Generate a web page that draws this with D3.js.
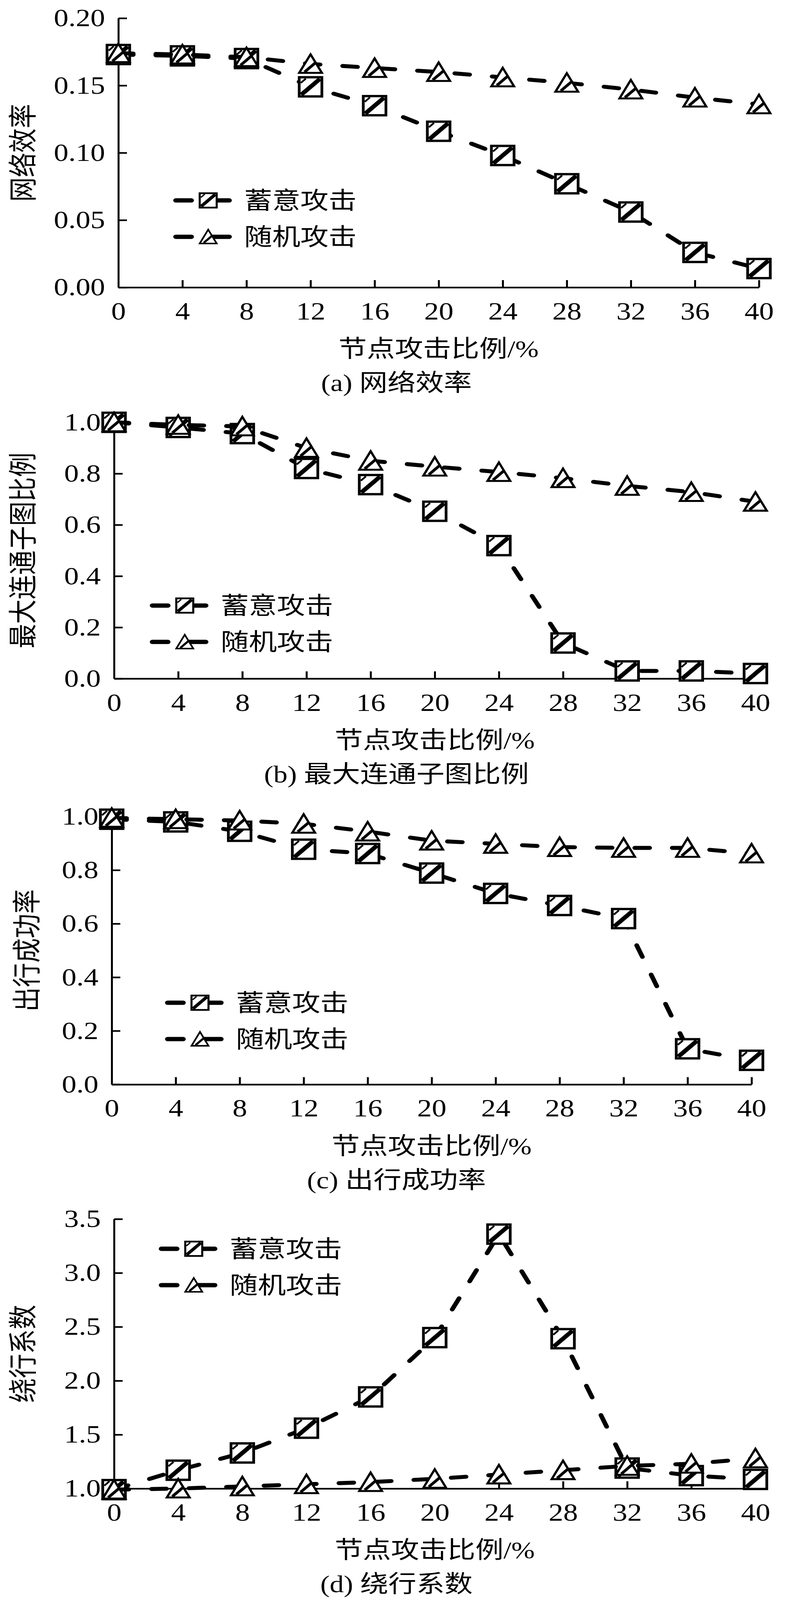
<!DOCTYPE html>
<html>
<head>
<meta charset="utf-8">
<script src="https://cdn.jsdelivr.net/npm/d3@7"></script>
<style>
  body { margin: 0; background: #fff; }
  svg { display: block; }
  text { fill: #000; font-family: "Liberation Serif", "Noto Sans CJK SC", serif; }
</style>
</head>
<body>
<svg id="chart"></svg>
<script>
// attack ratio (%) on the x axis, shared by all four panels
let attackRatio = [0, 4, 8, 12, 16, 20, 24, 28, 32, 36, 40];
let seriesNames = ["蓄意攻击", "随机攻击"];
let xTitle = "节点攻击比例/%";

// (a) network efficiency
let effDeliberate = [0.173, 0.172, 0.170, 0.149, 0.135, 0.116, 0.098, 0.077, 0.056, 0.026, 0.014];
let effRandom     = [0.174, 0.173, 0.171, 0.166, 0.163, 0.160, 0.156, 0.152, 0.147, 0.141, 0.136];
let effTicks = [0, 0.05, 0.10, 0.15, 0.20];

// (b) largest connected subgraph ratio
let lccDeliberate = [1.0, 0.98, 0.956, 0.82, 0.757, 0.653, 0.519, 0.139, 0.03, 0.03, 0.02];
let lccRandom     = [1.0, 0.99, 0.984, 0.90, 0.85, 0.827, 0.806, 0.782, 0.752, 0.728, 0.69];
let lccTicks = [0, 0.2, 0.4, 0.6, 0.8, 1.0];

// (c) trip success rate
let tripDeliberate = [0.99, 0.98, 0.945, 0.878, 0.862, 0.789, 0.713, 0.668, 0.619, 0.133, 0.09];
let tripRandom     = [0.995, 0.99, 0.985, 0.973, 0.944, 0.91, 0.898, 0.886, 0.883, 0.883, 0.862];
let tripTicks = [0, 0.2, 0.4, 0.6, 0.8, 1.0];

// (d) detour coefficient
let detourDeliberate = [0.99, 1.17, 1.33, 1.56, 1.85, 2.40, 3.36, 2.39, 1.19, 1.12, 1.085];
let detourRandom     = [0.99, 1.0, 1.02, 1.04, 1.06, 1.09, 1.13, 1.17, 1.21, 1.23, 1.28];
let detourTicks = [1.0, 1.5, 2.0, 2.5, 3.0, 3.5];

let width = 2025;
let height = 4838;

let panels = [
    { caption: "(a) 网络效率", yTitle: "网络效率", deliberate: effDeliberate, random: effRandom,
      ticks: effTicks, fmt: ".2f", left: 303, right: 1943, top: 55, bottom: 869,
      titleX: 58, legendX: 443, legendY: 606 },
    { caption: "(b) 最大连通子图比例", yTitle: "最大连通子图比例", deliberate: lccDeliberate, random: lccRandom,
      ticks: lccTicks, fmt: ".1f", left: 292, right: 1934, top: 1277, bottom: 2052,
      titleX: 58, legendX: 383, legendY: 1831 },
    { caption: "(c) 出行成功率", yTitle: "出行成功率", deliberate: tripDeliberate, random: tripRandom,
      ticks: tripTicks, fmt: ".1f", left: 286, right: 1924, top: 2469, bottom: 3279,
      titleX: 68, legendX: 422, legendY: 3032 },
    { caption: "(d) 绕行系数", yTitle: "绕行系数", deliberate: detourDeliberate, random: detourRandom,
      ticks: detourTicks, fmt: ".1f", left: 292, right: 1934, top: 3686, bottom: 4501,
      titleX: 58, legendX: 406, legendY: 3776 }
];

// the browser window can be shorter than the figure, so fit the whole figure into it
let viewH = Math.min(window.innerHeight || height, height);
let svg = d3.select("#chart")
    .attr("width", width)
    .attr("height", viewH)
    .attr("viewBox", "0 0 " + width + " " + height)
    .attr("preserveAspectRatio", "none");

// hatched square marker
let drawSquare = (g) => {
    g.append("rect").attr("x", -29).attr("y", -29).attr("width", 58).attr("height", 58)
        .attr("fill", "#fff").attr("stroke", "#000").attr("stroke-width", 7);
    g.append("line").attr("x1", -24).attr("y1", 24).attr("x2", 24).attr("y2", -24)
        .attr("stroke", "#000").attr("stroke-width", 12);
    g.append("line").attr("x1", -25).attr("y1", -12).attr("x2", -12).attr("y2", -25)
        .attr("stroke", "#000").attr("stroke-width", 5);
};

// hatched triangle marker
let drawTriangle = (g) => {
    g.append("path").attr("d", "M0,-29L29,27L-29,27Z")
        .attr("fill", "#fff").attr("stroke", "#000").attr("stroke-width", 6)
        .attr("stroke-linejoin", "miter");
    g.append("line").attr("x1", -15).attr("y1", 24).attr("x2", 12).attr("y2", -3)
        .attr("stroke", "#000").attr("stroke-width", 8);
};

let drawPanel = (p) => {
    let x = d3.scaleLinear().domain([0, 40]).range([p.left, p.right]);
    let y = d3.scaleLinear().domain([p.ticks[0], p.ticks[p.ticks.length - 1]]).range([p.bottom, p.top]);

    let g = svg.append("g");

    // axes, ticks pointing inward
    let xAxis = d3.axisBottom(x).tickValues(attackRatio).tickSizeInner(-22).tickSizeOuter(0).tickPadding(44);
    let yAxis = d3.axisLeft(y).tickValues(p.ticks).tickSizeInner(-22).tickSizeOuter(0).tickPadding(34)
        .tickFormat(d3.format(p.fmt));

    let gx = g.append("g").attr("transform", "translate(0," + p.bottom + ")").call(xAxis);
    let gy = g.append("g").attr("transform", "translate(" + p.left + ",0)").call(yAxis);
    [gx, gy].forEach(a => {
        a.select(".domain").attr("stroke", "#000").attr("stroke-width", 5);
        a.selectAll(".tick line").attr("stroke", "#000").attr("stroke-width", 5);
        a.selectAll(".tick text").attr("font-size", 75).attr("fill", "#000")
            .attr("font-family", "Liberation Serif");
    });

    let line = d3.line().x((d, i) => x(attackRatio[i])).y(d => y(d));

    [[p.deliberate, drawSquare], [p.random, drawTriangle]].forEach(([vals, marker]) => {
        g.append("path").datum(vals).attr("d", line)
            .attr("fill", "none").attr("stroke", "#000").attr("stroke-width", 12)
            .attr("stroke-linecap", "round").attr("stroke-dasharray", "38,58");
        g.selectAll(null).data(vals).enter().append("g")
            .attr("transform", (d, i) => "translate(" + x(attackRatio[i]) + "," + y(d) + ")")
            .each(function () { marker(d3.select(this)); });
    });

    // legend: dash, marker, dash, label
    [drawSquare, drawTriangle].forEach((marker, i) => {
        let ly = p.legendY + i * 110;
        let lg = g.append("g");
        lg.append("line").attr("x1", p.legendX + 7).attr("x2", p.legendX + 47).attr("y1", ly).attr("y2", ly)
            .attr("stroke", "#000").attr("stroke-width", 13).attr("stroke-linecap", "round");
        lg.append("line").attr("x1", p.legendX + 90).attr("x2", p.legendX + 144).attr("y1", ly).attr("y2", ly)
            .attr("stroke", "#000").attr("stroke-width", 13).attr("stroke-linecap", "round");
        let m = lg.append("g").attr("transform", "translate(" + (p.legendX + 90) + "," + ly + ") scale(0.75)");
        marker(m);
        lg.append("text").attr("x", p.legendX + 182).attr("y", ly).attr("dy", "0.36em")
            .attr("font-size", 72).text(seriesNames[i]);
    });

    // titles
    g.append("text").attr("transform", "translate(" + p.titleX + "," + ((p.top + p.bottom) / 2) + ") rotate(-90)")
        .attr("text-anchor", "middle").attr("dy", "0.36em").attr("font-size", 74).text(p.yTitle);
    g.append("text").attr("x", (p.left + p.right) / 2).attr("y", p.bottom + 185).attr("dy", "0.36em")
        .attr("text-anchor", "middle").attr("font-size", 72).text(xTitle);
    g.append("text").attr("x", 1015).attr("y", p.bottom + 288).attr("dy", "0.36em")
        .attr("text-anchor", "middle").attr("font-size", 72).text(p.caption);
};

panels.forEach(drawPanel);
</script>
</body>
</html>
